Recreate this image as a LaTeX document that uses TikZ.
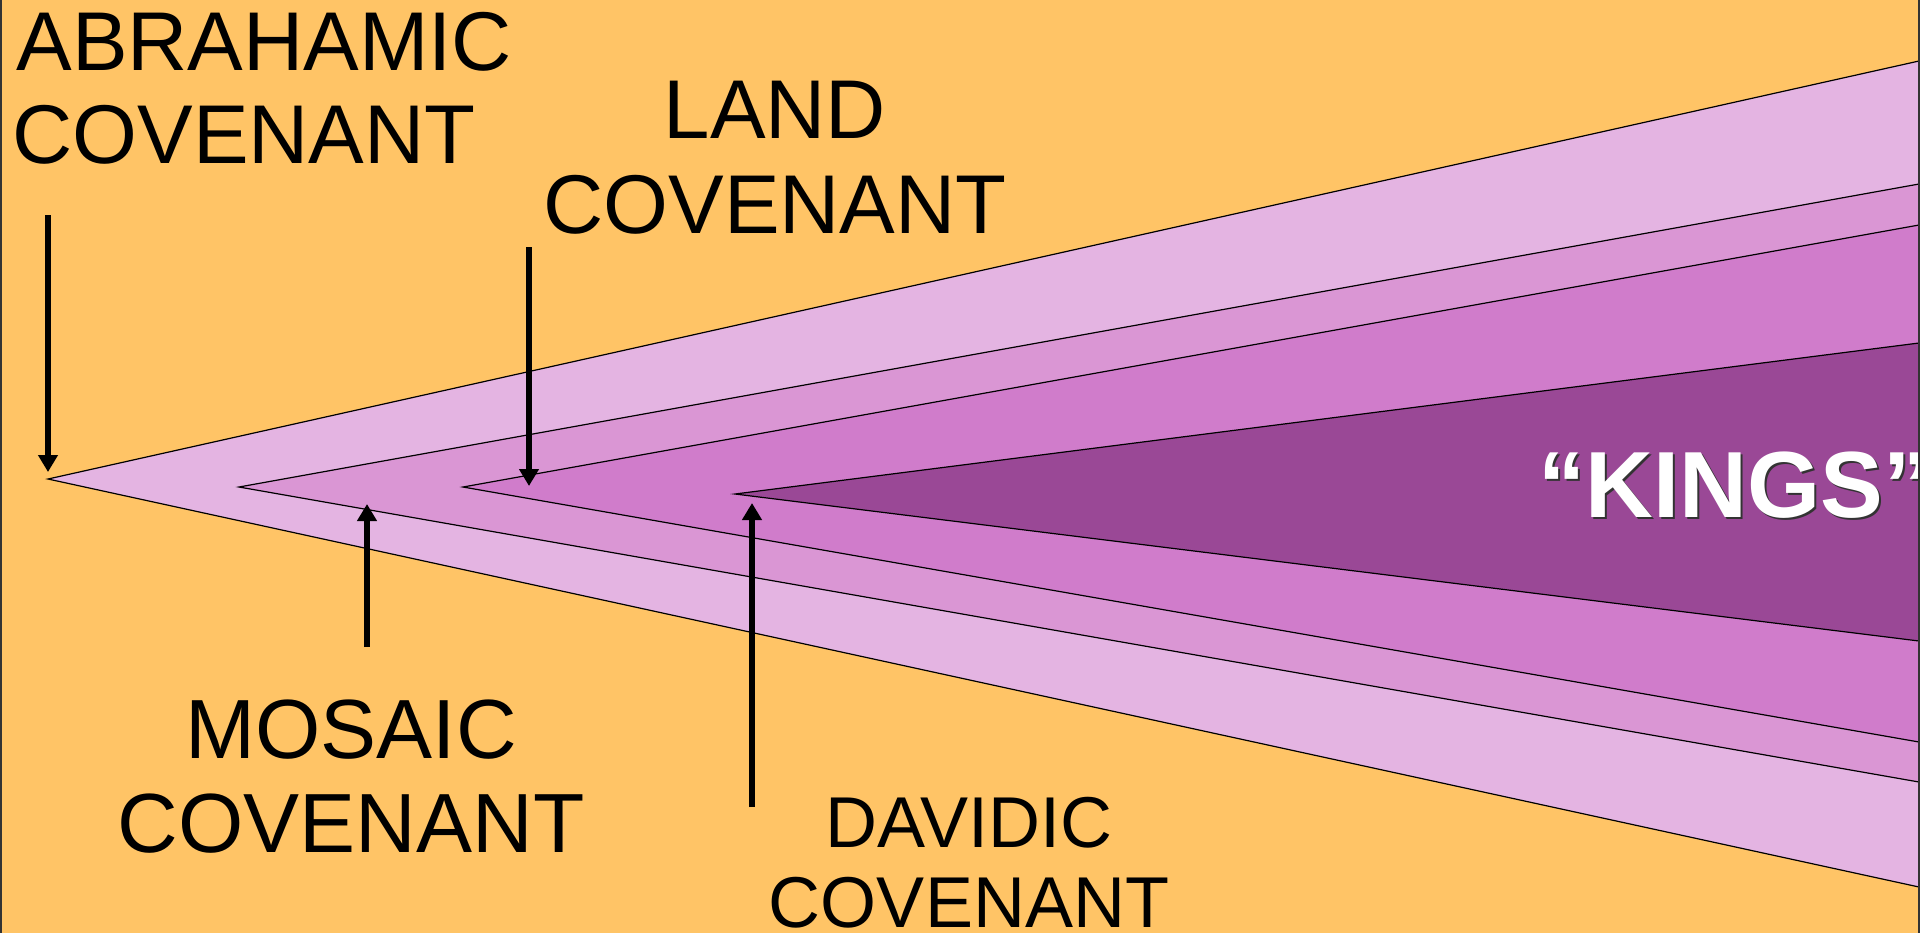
\documentclass[tikz,border=0pt]{standalone}
\usepackage{fontspec}
\usepackage{graphicx}
\setmainfont{Liberation Sans}
\usetikzlibrary{arrows.meta}
\definecolor{bgorange}{HTML}{FFC466}
\definecolor{tone}{HTML}{E4B4E2}
\definecolor{ttwo}{HTML}{DA96D4}
\definecolor{tthree}{HTML}{D07CCB}
\definecolor{tfour}{HTML}{9A4896}
\tikzset{
  wedge/.style={draw=black, line width=0.6pt},
  pointer/.style={line width=2.6pt, -{Triangle[width=9.5pt,length=8.5pt]}},
  biglabel/.style={inner sep=0pt, font=\fontsize{41.7}{46.5}\selectfont, text=black},
  mosaiclabel/.style={inner sep=0pt, font=\fontsize{42}{47}\selectfont, text=black},
  midlabel/.style={inner sep=0pt, font=\fontsize{36}{40}\selectfont, text=black},
  kingslabel/.style={inner sep=0pt, font=\fontsize{47}{52}\selectfont\bfseries},
}
\begin{document}
\begin{tikzpicture}[x=0.5pt,y=-0.5pt]
\useasboundingbox (0,0) rectangle (1920,933);
\fill[bgorange] (0,0) rectangle (1920,933);
\begin{scope}
\clip (0,0) rectangle (1920,933);
% wedges
\filldraw[wedge, fill=tone]   (48,479)  -- (1919,61)  -- (1919,887) -- cycle;
\filldraw[wedge, fill=ttwo]   (239,487) -- (1919,184) -- (1919,782) -- cycle;
\filldraw[wedge, fill=tthree] (463,487) -- (1919,225) -- (1919,742) -- cycle;
\filldraw[wedge, fill=tfour]  (735,494) -- (1919,343) -- (1919,641) -- cycle;
% KINGS
\node[kingslabel, text=black!80, anchor=base west] (kingsshadow) at (1540,519) {“KINGS”};
\node[kingslabel, text=white, anchor=base west] (kings) at (1538,517) {“KINGS”};
\end{scope}
% frame sides
\draw[line width=1pt, black!80] (0.5,0) -- (0.5,933);
\draw[line width=1pt, black!80] (1919,0) -- (1919,933);
% labels
\node[biglabel, anchor=base west] (abr1) at (16,70) {ABRAHAMIC};
\node[biglabel, anchor=base west] (abr2) at (12,163) {COVENANT};
\node[biglabel, anchor=base] (land1) at (775,138) {LAND};
\node[biglabel, anchor=base] (land2) at (775,233) {COVENANT};
\node[mosaiclabel, anchor=base] (mos1) at (351,758) {MOSAIC};
\node[mosaiclabel, anchor=base] (mos2) at (351,852) {COVENANT};
\node[midlabel, anchor=base] (dav1) at (969,847) {DAVIDIC};
\node[midlabel, anchor=base] (dav2) at (969,927) {COVENANT};
% arrow ends
\coordinate (abrS) at (48,215);
\coordinate (abrE) at (48,472);
\coordinate (landS) at (529,247);
\coordinate (landE) at (529,486);
\coordinate (mosS) at (367,647);
\coordinate (mosE) at (367,504);
\coordinate (davS) at (752,807);
\coordinate (davE) at (752,503);
\draw[pointer] (abrS) -- (abrE);
\draw[pointer] (landS) -- (landE);
\draw[pointer] (mosS) -- (mosE);
\draw[pointer] (davS) -- (davE);
\end{tikzpicture}
\end{document}
